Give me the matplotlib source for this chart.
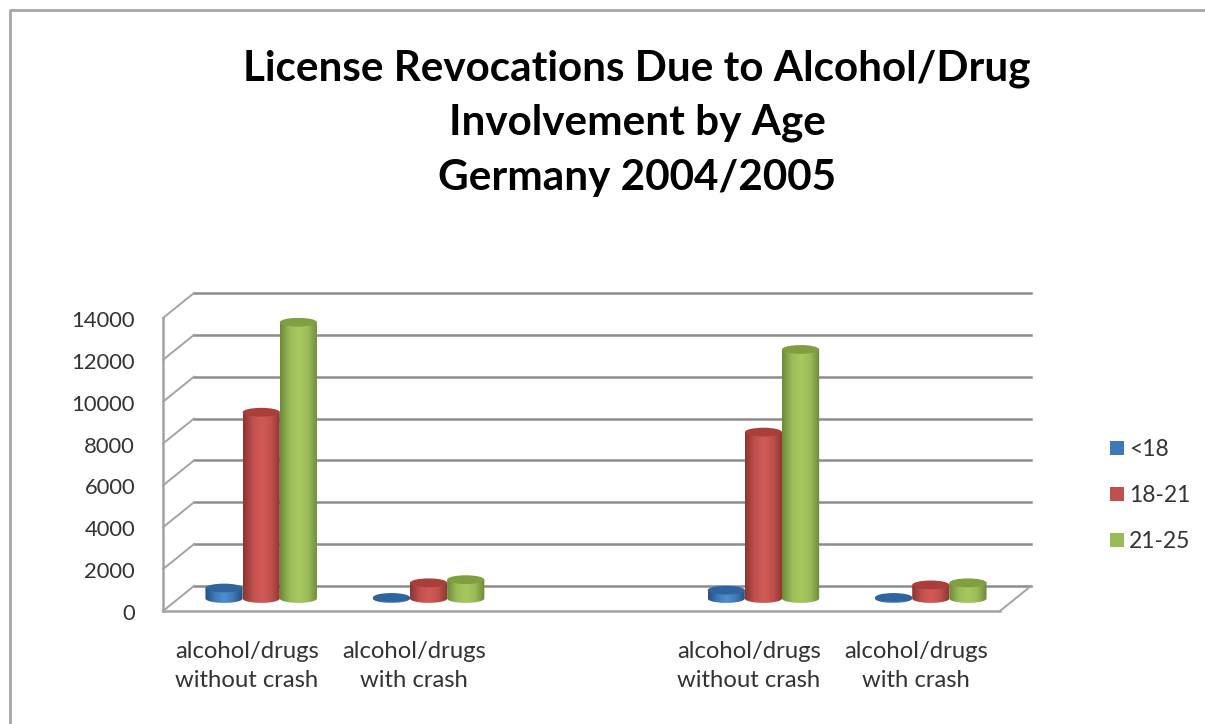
import numpy as np
import matplotlib
matplotlib.use('Agg')
import matplotlib.pyplot as plt
from matplotlib.colors import LinearSegmentedColormap
from matplotlib.patches import Ellipse, PathPatch, Rectangle
from matplotlib.path import Path
from matplotlib.transforms import Affine2D

plt.rcParams['font.family'] = ['Lato', 'DejaVu Sans']

title = 'License Revocations Due to Alcohol/Drug\nInvolvement by Age\nGermany 2004/2005'
categories = ['alcohol/drugs\nwithout crash', 'alcohol/drugs\nwith crash', '',
              'alcohol/drugs\nwithout crash', 'alcohol/drugs\nwith crash']
series = ['<18', '18-21', '21-25']
under_18 = [500, 50, 0, 400, 50]
age_18_21 = [8900, 750, 0, 7950, 650]
age_21_25 = [13200, 900, 0, 11900, 750]
yticks = [0, 2000, 4000, 6000, 8000, 10000, 12000, 14000]

values = [under_18, age_18_21, age_21_25]
base = ['#3f78b8', '#c0504d', '#9bbb59']
light = ['#4f8fd0', '#d25a56', '#a6c95e']
dark = ['#23507f', '#8c3432', '#6d8a38']
top = ['#2f659f', '#a93e3b', '#7f9f40']

W, H = 1205, 724
fig = plt.figure(figsize=(W / 100, H / 100), dpi=100)
ax = fig.add_axes([163 / W, (H - 611) / H, 837 / W, 293 / H])
ax.set_xlim(-0.5, 4.5)
ax.set_ylim(0, 14000)
ax.axis('off')

# fake 3d: back wall and bars sit on shifted copies of the data transform
back = ax.transData + Affine2D().translate(31, 25)
mid = ax.transData + Affine2D().translate(14.5, 12.5)
gcol = '#8c8c8c'
gcol2 = '#a3a3a3'

for v in yticks:
    ax.plot([-0.5, 4.5], [v, v], color=gcol, lw=1.8, transform=back, clip_on=False, zorder=1)
    # side wall diagonals
    p0 = ax.transData.transform((-0.5, v))
    ax.plot([p0[0], p0[0] + 31], [p0[1], p0[1] + 25], color=gcol2, lw=1.4,
            transform=None, clip_on=False, zorder=1)
ax.plot([-0.5, -0.5], [0, 14000], color=gcol2, lw=1.8, clip_on=False, zorder=1)
ax.plot([-0.5, 4.5], [0, 0], color=gcol2, lw=1.8, clip_on=False, zorder=1)
p1 = ax.transData.transform((4.5, 0))
ax.plot([p1[0], p1[0] + 31], [p1[1], p1[1] + 25], color=gcol2, lw=1.4,
        transform=None, clip_on=False, zorder=1)

bw = 0.222
eh = 420
t = np.linspace(np.pi, 2 * np.pi, 40)
for s in range(3):
    cm = LinearSegmentedColormap.from_list('c', [dark[s], base[s], light[s], base[s], dark[s]])
    for i, v in enumerate(values[s]):
        if v == 0:
            continue
        cx = i + (s - 1) * bw
        x0, x1 = cx - bw / 2, cx + bw / 2
        px = cx + bw / 2 * np.cos(t)
        py = eh / 2 * np.sin(t)
        verts = np.column_stack([np.r_[px, x1, x0, x0], np.r_[py, v, v, py[0]]])
        codes = [Path.MOVETO] + [Path.LINETO] * (len(verts) - 2) + [Path.CLOSEPOLY]
        clip = PathPatch(Path(verts, codes), transform=mid, fc='none', ec='none')
        ax.add_patch(clip)
        im = ax.imshow(np.linspace(0, 1, 64).reshape(1, -1), extent=[x0, x1, -eh / 2, v],
                       aspect='auto', cmap=cm, zorder=3 + s, transform=mid)
        im.set_clip_path(clip)
        ax.add_patch(Ellipse((cx, v), bw, eh, fc=top[s], ec='none', transform=mid, zorder=3 + s))

ax.set_xlim(-0.5, 4.5)
ax.set_ylim(0, 14000)

for v in yticks:
    ax.annotate(str(v), (-0.5, v), xytext=(135, -3), xycoords='data',
                textcoords=('figure pixels', 'offset pixels'), ha='right', va='center',
                fontsize=15.8, color='#333333')

for i, c in enumerate(categories):
    ax.annotate(c, (i, 0), xytext=(0, -30), textcoords='offset pixels', ha='center', va='top',
                fontsize=17.2, color='#333333', linespacing=1.45)

fig.text(637 / W, 1 - 123 / H, title, ha='center', va='center', fontsize=30.4, fontweight='bold',
         color='black', linespacing=1.52)

for s, y in enumerate([448, 494, 540]):
    fig.add_artist(Rectangle((1110 / W, 1 - (y + 7) / H), 14 / W, 14 / H, fc=base[s], ec='none',
                             transform=fig.transFigure))
    fig.text(1129 / W, 1 - (y + 2) / H, series[s], ha='left', va='center', fontsize=16.5, color='#333333')

# outer border of the chart area
fig.add_artist(plt.Line2D([10 / W, 10 / W, 1205 / W], [0, 1 - 10 / H, 1 - 10 / H], color='#a6a6a6', lw=2))

fig.savefig('out.png', dpi=100)
